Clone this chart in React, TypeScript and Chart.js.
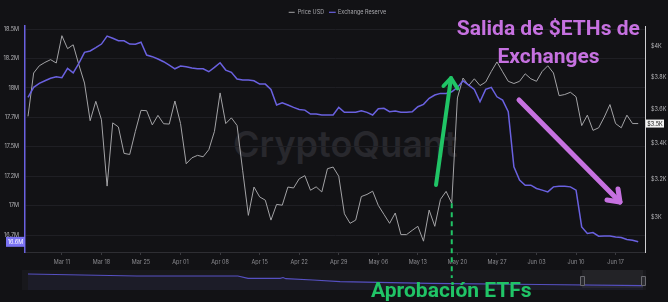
import React, { useEffect, useRef } from "react";
import { Chart, registerables } from "chart.js";

Chart.register(...registerables);

// ---------- DATA (daily, 2024-03-05 .. 2024-06-21) ----------
const priceUSD: number[] = [
  3556, 3825, 3872, 3894, 3912, 3890, 4073, 3985, 4011, 3879,
  3761, 3530, 3647, 3536, 3162, 3517, 3493, 3341, 3335, 3467,
  3592, 3590, 3505, 3562, 3512, 3510, 3649, 3513, 3283, 3316,
  3330, 3322, 3362, 3467, 3699, 3513, 3547, 3502, 3245, 3010,
  3157, 3105, 3088, 2986, 3066, 3062, 3157, 3152, 3201, 3218,
  3140, 3158, 3131, 3256, 3265, 3215, 3018, 2970, 2986, 3107,
  3118, 3135, 3061, 3015, 2970, 3022, 2914, 2914, 2935, 2955,
  2882, 3037, 2955, 3092, 3134, 3072, 3668, 3793, 3745, 3788,
  3745, 3767, 3835, 3897, 3833, 3772, 3758, 3772, 3820, 3788,
  3772, 3835, 3872, 3825, 3682, 3689, 3703, 3675, 3501, 3563,
  3473, 3488, 3552, 3627, 3513, 3488, 3563, 3513, 3513,
];

const exchangeReserve: number[] = [
  17.92, 18.005, 18.038, 18.06, 18.081, 18.094, 18.086, 18.166, 18.128, 18.208,
  18.302, 18.313, 18.341, 18.372, 18.44, 18.421, 18.4, 18.4, 18.372, 18.37,
  18.387, 18.279, 18.265, 18.245, 18.222, 18.194, 18.162, 18.185, 18.179, 18.168,
  18.162, 18.162, 18.137, 18.174, 18.213, 18.151, 18.132, 18.075, 18.066, 18.066,
  18.06, 18.032, 18.032, 17.987, 17.854, 17.873, 17.854, 17.834, 17.817, 17.811,
  17.777, 17.777, 17.769, 17.769, 17.769, 17.834, 17.792, 17.792, 17.792, 17.805,
  17.792, 17.769, 17.823, 17.826, 17.797, 17.803, 17.792, 17.792, 17.797, 17.84,
  17.86, 17.911, 17.939, 17.953, 17.953, 17.967, 18.004, 18.06, 18.024, 17.987,
  17.882, 17.987, 18.004, 17.924, 17.896, 17.797, 17.329, 17.216, 17.173, 17.173,
  17.145, 17.131, 17.116, 17.159, 17.165, 17.165, 17.159, 17.131, 16.819, 16.763,
  16.771, 16.74, 16.742, 16.742, 16.734, 16.729, 16.712, 16.706, 16.692,
];

const xTickDays: number[] = [6, 13, 20, 27, 34, 41, 48, 55, 62, 69, 76, 83, 90, 97, 104];
const xTickLabels: string[] = [
  "Mar 11", "Mar 18", "Mar 25", "Apr 01", "Apr 08", "Apr 15", "Apr 22", "Apr 29",
  "May 06", "May 13", "May 20", "May 27", "Jun 03", "Jun 10", "Jun 17",
];
const leftTickValues: number[] = [16.75, 17, 17.25, 17.5, 17.75, 18, 18.25, 18.5];
const leftTickLabels: string[] = ["16.7M", "17M", "17.2M", "17.5M", "17.7M", "18M", "18.2M", "18.5M"];
const rightTickValues: number[] = [3000, 3200, 3400, 3600, 3800, 4000];
const rightTickLabels: string[] = ["$3K", "$3.2K", "$3.4K", "$3.6K", "$3.8K", "$4K"];

const etfApprovalDay = 75;

// navigator (long history of the reserve)
const navDay: number[] = [0, 193, 372, 390, 447, 452, 457, 505, 553, 712, 907, 1090];
const navReserve: number[] = [20.59, 19.92, 19.92, 19.16, 19.16, 19.42, 19.02, 18.59, 18.02, 17.49, 17.09, 16.69];
const navWindow: number[] = [982, 1090];

// ---------- STYLE ----------
const BG = "#121215";
const BLUE = "#6a61e0";
const BLUE_BOX = "#7a72f2";
const GREY = "#a3a3a6";
const GREEN = "#20c466";
const PURPLE = "#c671e0";
const FONT = "Inter, Roboto, sans-serif";

function arrow(ctx: CanvasRenderingContext2D, tail: number[], tip: number[], w1: number[], w2: number[], color: string, width: number) {
  ctx.save();
  ctx.strokeStyle = color;
  ctx.lineWidth = width;
  ctx.lineCap = "round";
  ctx.lineJoin = "round";
  ctx.beginPath();
  ctx.moveTo(tail[0], tail[1]);
  ctx.lineTo(tip[0], tip[1]);
  ctx.stroke();
  ctx.beginPath();
  ctx.moveTo(w1[0], w1[1]);
  ctx.lineTo(tip[0], tip[1]);
  ctx.lineTo(w2[0], w2[1]);
  ctx.stroke();
  ctx.restore();
}

const overlayPlugin = {
  id: "overlay",
  afterDraw(chart: any) {
    const ctx: CanvasRenderingContext2D = chart.ctx;
    const xs = chart.scales.x;
    const yR = chart.scales.yReserve;
    const yP = chart.scales.yPrice;
    const area = chart.chartArea;

    // ETF approval dashed line
    const dx = xs.getPixelForValue(etfApprovalDay);
    const dy = yP.getPixelForValue(priceUSD[etfApprovalDay]);
    ctx.save();
    ctx.strokeStyle = GREEN;
    ctx.lineWidth = 2;
    ctx.setLineDash([5, 4]);
    ctx.beginPath();
    ctx.moveTo(dx, dy);
    ctx.lineTo(dx, 278);
    ctx.stroke();
    ctx.restore();

    // arrows
    arrow(ctx, [436, 185], [451, 78], [443.5, 86], [457.5, 88.5], GREEN, 4);
    arrow(ctx, [519, 100], [620, 202], [607, 200], [618, 189], PURPLE, 5);

    // last value boxes
    const lastR = exchangeReserve[exchangeReserve.length - 1];
    const ry = yR.getPixelForValue(lastR);
    ctx.save();
    ctx.fillStyle = BLUE_BOX;
    ctx.fillRect(area.left - 19, ry - 5, 19, 10);
    ctx.fillStyle = "#ffffff";
    ctx.font = `5.5px ${FONT}`;
    ctx.textAlign = "center";
    ctx.textBaseline = "middle";
    ctx.fillText((Math.floor(lastR * 10) / 10).toFixed(1) + "M", area.left - 9.5, ry + 0.5);

    const lastP = priceUSD[priceUSD.length - 1];
    const py = yP.getPixelForValue(lastP);
    ctx.fillStyle = "#f2f2f2";
    ctx.fillRect(area.right + 1, py - 4, 18, 8);
    ctx.fillStyle = "#111";
    ctx.fillText("$" + (Math.floor(lastP / 100) / 10).toFixed(1) + "K", area.right + 10, py + 0.5);
    ctx.restore();
  },
};

const navPlugin = {
  id: "navWindow",
  beforeDatasetsDraw(chart: any) {
    const ctx: CanvasRenderingContext2D = chart.ctx;
    const xs = chart.scales.x;
    const a = xs.getPixelForValue(navWindow[0]);
    const b = xs.getPixelForValue(navWindow[1]);
    ctx.save();
    ctx.fillStyle = "rgba(255,255,255,0.05)";
    ctx.fillRect(a, 2, b - a, 18);
    ctx.restore();
  },
  afterDraw(chart: any) {
    const ctx: CanvasRenderingContext2D = chart.ctx;
    const xs = chart.scales.x;
    ctx.save();
    for (const d of navWindow) {
      const x = Math.round(xs.getPixelForValue(d));
      ctx.fillStyle = "#2a2a2f";
      ctx.strokeStyle = "#6a6a70";
      ctx.lineWidth = 1;
      ctx.beginPath();
      ctx.rect(x - 2 + 0.5, 8.5, 4, 9);
      ctx.fill();
      ctx.stroke();
    }
    ctx.restore();
  },
};

export default function App() {
  const mainRef = useRef<HTMLCanvasElement>(null);
  const navRef = useRef<HTMLCanvasElement>(null);

  useEffect(() => {
    document.body.style.margin = "0";
    document.body.style.background = BG;
    Chart.defaults.font.family = FONT;

    const main = new Chart(mainRef.current!, {
      type: "line",
      data: {
        datasets: [
          {
            label: "Exchange Reserve",
            data: exchangeReserve.map((v, i) => ({ x: i, y: v })),
            yAxisID: "yReserve",
            borderColor: BLUE,
            borderWidth: 1.5,
            pointRadius: 0,
            tension: 0,
            order: 0,
          },
          {
            label: "Price USD",
            data: priceUSD.map((v, i) => ({ x: i, y: v })),
            yAxisID: "yPrice",
            borderColor: GREY,
            borderWidth: 1,
            pointRadius: 0,
            tension: 0,
            order: 1,
          },
        ],
      },
      options: {
        responsive: false,
        animation: false,
        devicePixelRatio: 1,
        layout: { padding: { top: 26, bottom: 30, left: 0, right: 0 } },
        plugins: { legend: { display: false }, tooltip: { enabled: false } },
        scales: {
          x: {
            type: "linear",
            min: -0.531,
            max: 109.204,
            afterBuildTicks: (ax: any) => {
              ax.ticks = xTickDays.map((v) => ({ value: v }));
            },
            afterFit: (s: any) => {
              s.height = 20;
            },
            grid: { drawOnChartArea: false, drawTicks: true, tickLength: 3, color: "#3a3a3f" },
            border: { color: "#2e2e33" },
            ticks: {
              color: "#8d8d92",
              font: { size: 5.5 },
              padding: 4,
              maxRotation: 0,
              autoSkip: false,
              callback: (v: any) => xTickLabels[xTickDays.indexOf(Number(v))],
            },
          },
          yReserve: {
            type: "linear",
            position: "left",
            min: 16.6056,
            max: 18.5255,
            afterBuildTicks: (ax: any) => {
              ax.ticks = leftTickValues.map((v) => ({ value: v }));
            },
            afterFit: (s: any) => {
              s.width = 25;
            },
            grid: { color: "#1f1f24", drawTicks: false },
            border: { color: BLUE, width: 1.5 },
            ticks: {
              color: "#b4b4b8",
              font: { size: 5.5 },
              padding: 6,
              callback: (v: any) => leftTickLabels[leftTickValues.indexOf(Number(v))],
            },
          },
          yPrice: {
            type: "logarithmic",
            position: "right",
            min: 2830,
            max: 4140,
            afterBuildTicks: (ax: any) => {
              ax.ticks = rightTickValues.map((v) => ({ value: v }));
            },
            afterFit: (s: any) => {
              s.width = 23;
            },
            grid: { drawOnChartArea: false, drawTicks: false },
            border: { color: "#cfcfd2", width: 1 },
            ticks: {
              color: "#b4b4b8",
              font: { size: 5.5 },
              padding: 6,
              callback: (v: any) => rightTickLabels[rightTickValues.indexOf(Number(v))],
            },
          },
        },
      },
      plugins: [overlayPlugin],
    } as any);

    const nav = new Chart(navRef.current!, {
      type: "line",
      data: {
        datasets: [
          {
            data: navDay.map((d, i) => ({ x: d, y: navReserve[i] })),
            borderColor: "#5650c2",
            borderWidth: 1.2,
            pointRadius: 0,
            tension: 0,
            fill: "start",
            backgroundColor: "rgba(90,80,200,0.07)",
          },
        ],
      },
      options: {
        responsive: false,
        animation: false,
        devicePixelRatio: 1,
        layout: { padding: 0 },
        plugins: { legend: { display: false }, tooltip: { enabled: false } },
        scales: {
          x: { type: "linear", display: false, min: -10.63, max: 1095.3 },
          y: { type: "linear", display: false, min: 15.257, max: 22.59 },
        },
      },
      plugins: [navPlugin],
    } as any);

    return () => {
      main.destroy();
      nav.destroy();
    };
  }, []);

  return (
    <div
      style={{
        position: "relative",
        width: 668,
        height: 302,
        background: BG,
        overflow: "hidden",
      }}
    >
      <svg width={668} height={302} style={{ position: "absolute", left: 0, top: 0 }}>
        <text x={233} y={157} fontFamily={FONT} fontWeight={600} fontSize={36} fill="#28282d">
          CryptoQuant
        </text>
      </svg>
      <div
        style={{
          position: "absolute",
          left: 22,
          top: 270,
          width: 624,
          height: 20,
          background: "#18181c",
        }}
      />
      <canvas
        ref={navRef}
        width={624}
        height={22}
        style={{ position: "absolute", left: 22, top: 268, width: 624, height: 22 }}
      />
      <canvas
        ref={mainRef}
        width={668}
        height={302}
        style={{ position: "absolute", left: 0, top: 0, width: 668, height: 302 }}
      />
      <svg width={668} height={302} style={{ position: "absolute", left: 0, top: 0, pointerEvents: "none" }}>
        <line x1={288.7} y1={12.3} x2={294.7} y2={12.3} stroke={GREY} strokeWidth={1} />
        <text x={297.7} y={14.3} fontFamily={FONT} fontSize={5.5} fill="#a8a8ad">
          Price USD
        </text>
        <line x1={329} y1={12.3} x2={335.7} y2={12.3} stroke={BLUE} strokeWidth={1.2} />
        <text x={338} y={14.3} fontFamily={FONT} fontSize={5.5} fill="#a8a8ad">
          Exchange Reserve
        </text>
        <text x={548.3} y={35} textAnchor="middle" fontFamily="Roboto, sans-serif" fontWeight={700} fontSize={21} fill={PURPLE}>
          Salida de $ETHs de
        </text>
        <text x={548.5} y={62.7} textAnchor="middle" fontFamily="Roboto, sans-serif" fontWeight={700} fontSize={21} fill={PURPLE}>
          Exchanges
        </text>
        <text x={451.3} y={296.7} textAnchor="middle" fontFamily="Roboto, sans-serif" fontWeight={700} fontSize={21} fill={GREEN}>
          Aprobación ETFs
        </text>
      </svg>
    </div>
  );
}
